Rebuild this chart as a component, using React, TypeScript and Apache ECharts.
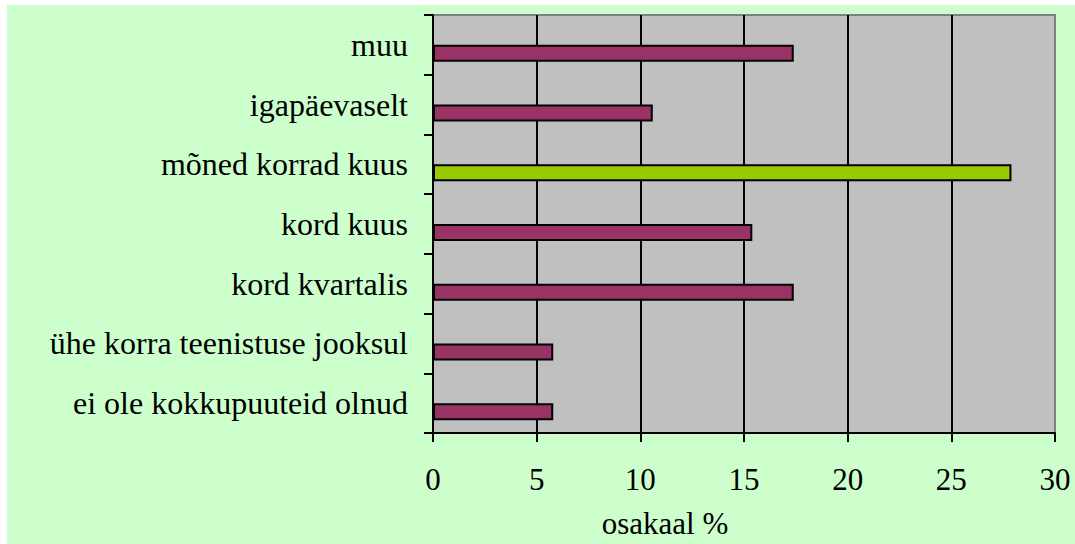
import React, { useEffect, useRef } from "react";
import * as echarts from "echarts";

const categories = [
  "ei ole kokkupuuteid olnud",
  "ühe korra teenistuse jooksul",
  "kord kvartalis",
  "kord kuus",
  "mõned korrad kuus",
  "igapäevaselt",
  "muu",
];
const values = [5.8, 5.8, 17.4, 15.4, 27.9, 10.6, 17.4];
const highlightIndex = 4;
const xTicks = [0, 5, 10, 15, 20, 25, 30];
const axisTitle = "osakaal %";

const FONT = "Liberation Serif";
const FS_CAT = 32;
const FS_TICK = 31;

export default function App() {
  const ref = useRef<HTMLDivElement>(null);
  useEffect(() => {
    if (!ref.current) return;
    const chart = echarts.init(ref.current, undefined, { renderer: "svg" });
    const splitColors = xTicks.map((t, i) => (i === xTicks.length - 1 ? "#808080" : "#000000"));
    chart.setOption({
      animation: false,
      backgroundColor: "#CCFFCC",
      textStyle: { fontFamily: FONT },
      grid: {
        left: 426,
        top: 10,
        right: 20,
        bottom: 111,
        show: true,
        backgroundColor: "#C0C0C0",
        borderColor: "#808080",
        borderWidth: 2,
        containLabel: false,
        outerBoundsMode: "none",
      },
      xAxis: {
        type: "value",
        min: xTicks[0],
        max: xTicks[xTicks.length - 1],
        interval: 5,
        axisLine: { show: true, lineStyle: { color: "#000", width: 2 } },
        axisTick: { show: true, length: 9, lineStyle: { color: "#000", width: 2 } },
        axisLabel: {
          color: "#000",
          fontFamily: FONT,
          fontSize: FS_TICK,
          margin: 31,
        },
        splitLine: { show: true, lineStyle: { color: splitColors, width: 2 } },
      },
      yAxis: {
        type: "category",
        data: categories,
        axisLine: { show: true, lineStyle: { color: "#000", width: 2 } },
        axisTick: { show: true, length: 9, lineStyle: { color: "#000", width: 2 } },
        axisLabel: {
          color: "#000",
          fontFamily: FONT,
          fontSize: FS_CAT,
          margin: 25,
        },
        splitLine: { show: false },
      },
      series: [
        {
          type: "bar",
          data: categories.map(() => null),
          barWidth: 17,
          barGap: "0%",
        },
        {
          type: "bar",
          data: values.map((v, i) => ({
            value: v,
            itemStyle: { color: i === highlightIndex ? "#99CC00" : "#993366" },
          })),
          barWidth: 17,
          barGap: "0%",
          itemStyle: { borderColor: "#000", borderWidth: 2 },
        },
      ],
      graphic: [
        {
          type: "text",
          x: 658,
          y: 518,
          style: {
            text: axisTitle,
            fill: "#000",
            fontFamily: FONT,
            fontSize: FS_TICK,
            align: "center",
            verticalAlign: "middle",
          },
        },
      ],
    });
    return () => chart.dispose();
  }, []);
  return (
    <div style={{ position: "absolute", left: 0, top: 0, width: 1075, height: 544, background: "#fff" }}>
      <div ref={ref} style={{ position: "absolute", left: 7, top: 5, width: 1068, height: 539 }} />
    </div>
  );
}
